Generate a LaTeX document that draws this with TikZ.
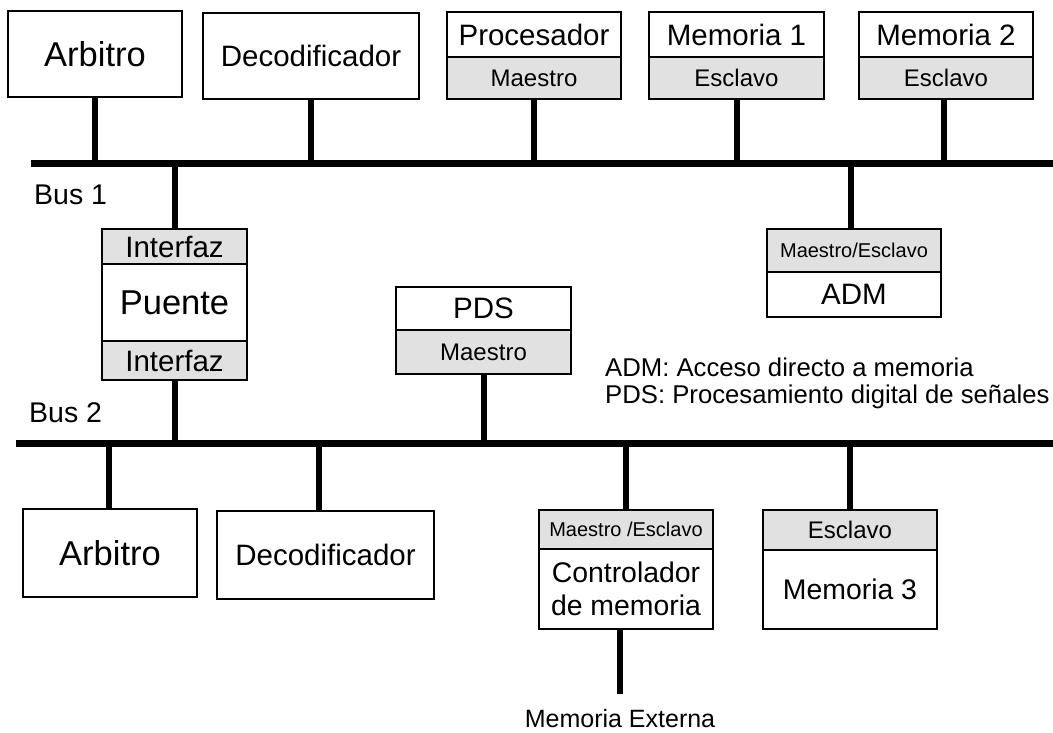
\documentclass[tikz,border=0pt]{standalone}
\usepackage{fontspec}
\setmainfont{Liberation Sans}
\usetikzlibrary{fit}
\definecolor{paneg}{HTML}{E1E1E1}
\tikzset{
  frame/.style={draw, line width=2.6pt, inner sep=0pt, outer sep=0pt},
  part/.style={inner sep=0pt, outer sep=0pt, anchor=north west},
  role/.style={part, fill=paneg},
  divider/.style={line width=1.4pt},
  bus/.style={line width=7pt},
  stub/.style={line width=6pt},
  fbig/.style={font=\fontsize{34.5}{40}\selectfont},
  fmid/.style={font=\fontsize{29.5}{34}\selectfont},
  fsmall/.style={font=\fontsize{24}{28}\selectfont},
  ftiny/.style={font=\fontsize{20}{24}\selectfont},
  flegend/.style={font=\fontsize{25.7}{30}\selectfont},
}
\begin{document}
\begin{tikzpicture}[x=1pt, y=-1pt]
\useasboundingbox (0,0) rectangle (1053,732);

% ---- buses ----
\coordinate (b1l) at (31,163);
\coordinate (b1r) at (1053,163);
\coordinate (b2l) at (16,443);
\coordinate (b2r) at (1053,443);

% ---- units on bus 1 ----
\node[frame, part, fbig, minimum width=174pt, minimum height=86pt] (arb1) at (8,11) {Arbitro};
\node[frame, part, fmid, minimum width=216pt, minimum height=86pt] (dec1) at (203,13) {Decodificador};

\node[part, fmid, minimum width=174pt, minimum height=45pt] (procT) at (447,12) {Procesador};
\node[role, fsmall, minimum width=174pt, minimum height=42pt] (procB) at (447,57) {Maestro};
\draw[divider] (procT.south west) -- (procT.south east);
\node[frame, fit=(procT)(procB)] (proc) {};

\node[part, fmid, minimum width=175pt, minimum height=45pt] (mem1T) at (649,12) {Memoria 1};
\node[role, fsmall, minimum width=175pt, minimum height=42pt] (mem1B) at (649,57) {Esclavo};
\draw[divider] (mem1T.south west) -- (mem1T.south east);
\node[frame, fit=(mem1T)(mem1B)] (mem1) {};

\node[part, fmid, minimum width=174pt, minimum height=45pt] (mem2T) at (859,12) {Memoria 2};
\node[role, fsmall, minimum width=174pt, minimum height=42pt] (mem2B) at (859,57) {Esclavo};
\draw[divider] (mem2T.south west) -- (mem2T.south east);
\node[frame, fit=(mem2T)(mem2B)] (mem2) {};

% ---- bridge between the buses ----
\node[role, fmid, minimum width=145pt, minimum height=35pt] (brT) at (102,229) {Interfaz};
\node[part, fbig, minimum width=145pt, minimum height=77pt] (brM) at (102,264) {Puente};
\node[role, fmid, minimum width=145pt, minimum height=39pt] (brB) at (102,341) {Interfaz};
\draw[divider] (brT.south west) -- (brT.south east);
\draw[divider] (brB.north west) -- (brB.north east);
\node[frame, fit=(brT)(brB)] (bridge) {};

% ---- direct memory access unit ----
\node[role, ftiny, minimum width=174pt, minimum height=43pt] (admT) at (767,229) {Maestro/Esclavo};
\node[part, fmid, minimum width=174pt, minimum height=45pt] (admB) at (767,272) {ADM};
\draw[divider] (admT.south west) -- (admT.south east);
\node[frame, fit=(admT)(admB)] (adm) {};

% ---- signal processor ----
\node[part, fmid, minimum width=175pt, minimum height=43pt] (pdsT) at (396,287) {PDS};
\node[role, fsmall, minimum width=175pt, minimum height=44pt] (pdsB) at (396,330) {Maestro};
\draw[divider] (pdsT.south west) -- (pdsT.south east);
\node[frame, fit=(pdsT)(pdsB)] (pds) {};

% ---- units on bus 2 ----
\node[frame, part, fbig, minimum width=174pt, minimum height=88pt] (arb2) at (23,509) {Arbitro};
\node[frame, part, fmid, minimum width=217pt, minimum height=88pt] (dec2) at (217,511) {Decodificador};

\node[role, ftiny, minimum width=174pt, minimum height=39pt] (ctrlT) at (539,510) {Maestro /Esclavo};
\node[part, align=center, font=\fontsize{28.4}{33}\selectfont, minimum width=174pt, minimum height=80pt] (ctrlB) at (539,549) {Controlador\\de memoria};
\draw[divider] (ctrlT.south west) -- (ctrlT.south east);
\node[frame, fit=(ctrlT)(ctrlB)] (ctrl) {};

\node[role, fsmall, minimum width=174pt, minimum height=40pt] (mem3T) at (763,510) {Esclavo};
\node[part, font=\fontsize{28.4}{33}\selectfont, minimum width=174pt, minimum height=79pt] (mem3B) at (763,550) {Memoria 3};
\draw[divider] (mem3T.south west) -- (mem3T.south east);
\node[frame, fit=(mem3T)(mem3B)] (mem3) {};

% ---- labels ----
\node[anchor=west, inner sep=0pt, font=\fontsize{28.5}{33}\selectfont] (lbus1) at (34,195) {Bus 1};
\node[anchor=west, inner sep=0pt, font=\fontsize{28.5}{33}\selectfont] (lbus2) at (29,413) {Bus 2};
\node[anchor=west, inner sep=0pt, flegend] (lg1) at (605,367) {ADM: Acceso directo a memoria};
\node[anchor=west, inner sep=0pt, flegend] (lg2) at (605,397) {PDS: Procesamiento digital de señales};
\node[inner sep=0pt, font=\fontsize{25}{30}\selectfont] (ext) at (620,719) {Memoria Externa};
\coordinate (extend) at (620,694);

% ---- bus lines ----
\draw[bus] (b1l) -- (b1r);
\draw[bus] (b2l) -- (b2r);

% ---- stubs to the buses ----
\draw[stub] (arb1.south) -- (arb1.south |- b1l);
\draw[stub] (dec1.south) -- (dec1.south |- b1l);
\draw[stub] (proc.south) -- (proc.south |- b1l);
\draw[stub] (mem1.south) -- (mem1.south |- b1l);
\draw[stub] ([xshift=-2pt]mem2.south) -- ([xshift=-2pt]mem2.south |- b1l);
\draw[stub] (bridge.north) -- (bridge.north |- b1l);
\draw[stub] ([xshift=-3pt]adm.north) -- ([xshift=-3pt]adm.north |- b1l);
\draw[stub] (bridge.south) -- (bridge.south |- b2l);
\draw[stub] (pds.south) -- (pds.south |- b2l);
\draw[stub] ([xshift=-1pt]arb2.north) -- ([xshift=-1pt]arb2.north |- b2l);
\draw[stub] ([xshift=-7pt]dec2.north) -- ([xshift=-7pt]dec2.north |- b2l);
\draw[stub] (ctrl.north) -- (ctrl.north |- b2l);
\draw[stub] (mem3.north) -- (mem3.north |- b2l);
\draw[stub] (ctrl.south -| extend) -- (extend);
\end{tikzpicture}
\end{document}
